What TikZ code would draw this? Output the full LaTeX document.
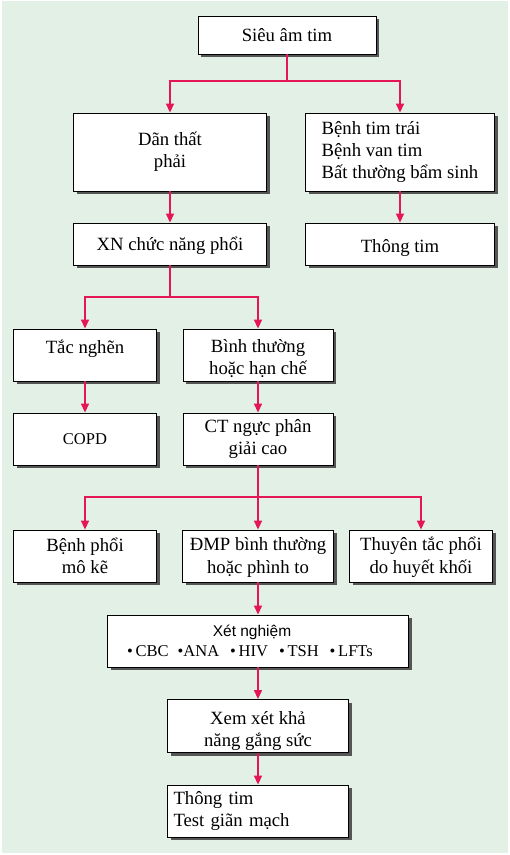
\documentclass[tikz,border=0pt]{standalone}
\usepackage{fontspec}
\setmainfont{Liberation Serif}
\newfontfamily\sansf{Liberation Sans}
\usetikzlibrary{shadows,arrows.meta}
\definecolor{bgg}{RGB}{226,240,230}
\definecolor{arrc}{RGB}{228,22,88}
\definecolor{shd}{RGB}{85,85,85}
\begin{document}
\begin{tikzpicture}[x=1pt,y=-1pt,
  box/.style={draw=black, line width=0.9pt, fill=white, rectangle, inner sep=4pt,
    font=\fontsize{18.7}{22.4}\selectfont, align=center,
    drop shadow={shadow xshift=3pt, shadow yshift=-3pt, fill=shd, opacity=1}},
  arr/.style={draw=arrc, line width=1.6pt, line join=miter, -{Triangle[length=9pt,width=8pt]}},
  ln/.style={draw=arrc, line width=1.6pt}]
\fill[white] (0,0) rectangle (510,855);
\fill[bgg] (2,1) rectangle (508,853);
\useasboundingbox (0,0) rectangle (510,855);

% nodes
\node[box, minimum width=178pt, minimum height=38pt] (s1) at (287,35) {Siêu âm tim};
\node[box, minimum width=193pt, minimum height=78pt] (d1) at (170,152) {Dãn thất\\phải};
\node[box, minimum width=189pt, minimum height=78pt, align=left] (b1) at (400,152) {Bệnh tim trái\\Bệnh van tim\\Bất thường bẩm sinh};
\node[box, minimum width=193pt, minimum height=42pt, text height=15pt, text depth=3pt] (xn) at (170,244) {XN chức năng phổi};
\node[box, minimum width=189pt, minimum height=42pt, text height=20pt, text depth=3pt] (tt1) at (400,244) {Thông tim};
\node[box, minimum width=143pt, minimum height=52pt, text height=11pt, text depth=15pt] (tn) at (85,355) {Tắc nghẽn};
\node[box, minimum width=150pt, minimum height=52pt, text height=41pt, text depth=2pt] (bt) at (258,355) {Bình thường\\hoặc hạn chế};
\node[box, minimum width=143pt, minimum height=52pt, font=\fontsize{16.5}{20}\selectfont] (copd) at (85,439) {COPD};
\node[box, minimum width=150pt, minimum height=52pt] (ct) at (258,439) {CT ngực phân\\giải cao};
\node[box, minimum width=143pt, minimum height=52pt, text height=37pt, text depth=2pt] (bp) at (85,556) {Bệnh phổi\\mô kẽ};
\node[box, minimum width=151pt, minimum height=52pt, text height=36pt, text depth=2pt] (dmp) at (258,556) {ĐMP bình thường\\hoặc phình to};
\node[box, minimum width=143pt, minimum height=52pt, text height=36pt, text depth=2pt] (ttp) at (421,556) {Thuyên tắc phổi\\do huyết khối};
\node[box, minimum width=301pt, minimum height=52pt, font=\fontsize{16.5}{20}\selectfont] (xet) at (258,641)
  {\hspace*{-12pt}{\sansf\fontsize{15.5}{20}\selectfont Xét nghiệm}\\
   \hspace*{-16pt}\textbullet\,CBC\hspace{9pt}\textbullet ANA\hspace{11pt}\textbullet\,HIV\hspace{11pt}\textbullet\,TSH\hspace{11pt}\textbullet\,LFTs};
\node[box, minimum width=181pt, minimum height=52pt, text height=43pt, text depth=2pt] (xem) at (258,726) {Xem xét khả\\năng gắng sức};
\node[box, minimum width=181pt, minimum height=52pt, text width=169pt, align=left] (tt2) at (258,811) {Thông tim\\Test giãn mạch};

% junctions
\coordinate (j1) at (287,81);
\coordinate (j2) at (170,297);
\coordinate (j3) at (258,497);

% connectors
\draw[ln] (s1.south) -- (j1);
\draw[arr] (j1) -| (d1.north);
\draw[arr] (j1) -| (b1.north);
\draw[arr] (d1.south) -- (xn.north);
\draw[arr] (b1.south) -- (tt1.north);
\draw[ln] (xn.south) -- (j2);
\draw[arr] (j2) -| (tn.north);
\draw[arr] (j2) -| (bt.north);
\draw[arr] (tn.south) -- (copd.north);
\draw[arr] (bt.south) -- (ct.north);
\draw[ln] (ct.south) -- (j3);
\draw[arr] (j3) -| (bp.north);
\draw[arr] (j3) -- (dmp.north);
\draw[arr] (j3) -| (ttp.north);
\draw[arr] (dmp.south) -- (xet.north);
\draw[arr] (xet.south) -- (xem.north);
\draw[arr] (xem.south) -- (tt2.north);
\end{tikzpicture}
\end{document}
